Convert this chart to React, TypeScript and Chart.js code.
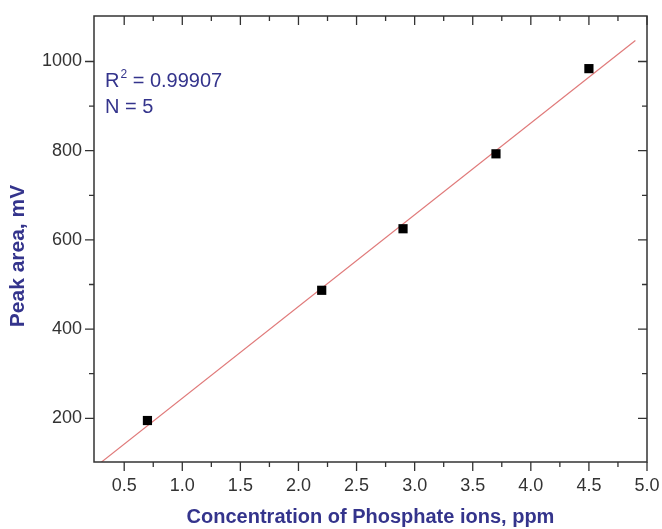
import React, { useEffect, useRef } from "react";
import { Chart, registerables } from "chart.js";

Chart.register(...registerables);

// ---- data ----
const concentration = [0.7, 2.2, 2.9, 3.7, 4.5];
const peakArea = [195, 487, 625, 793, 984];
const fitX = [0.3, 4.9];
const fitY = [101, 1047];
const xMajorTicks = [0.5, 1.0, 1.5, 2.0, 2.5, 3.0, 3.5, 4.0, 4.5, 5.0];
const xMinorTicks = [0.75, 1.25, 1.75, 2.25, 2.75, 3.25, 3.75, 4.25, 4.75];
const yMajorTicks = [200, 400, 600, 800, 1000];
const yMinorTicks = [300, 500, 700, 900];
const xTitle = "Concentration of Phosphate ions, ppm";
const yTitle = "Peak area, mV";
const rSquaredText = "0.99907";
const nText = "5";

const NAVY = "#34348c";
const AXIS = "#333333";
const FONT = "'Liberation Sans', Arial, sans-serif";

const framePlugin = {
  id: "frameTicks",
  afterDraw(chart: any) {
    const { ctx, chartArea } = chart;
    const { left, right, top, bottom } = chartArea;
    const xs = chart.scales.x;
    const ys = chart.scales.y;
    ctx.save();
    ctx.strokeStyle = AXIS;
    ctx.lineWidth = 1.5;
    ctx.beginPath();
    ctx.rect(left, top, right - left, bottom - top);
    ctx.stroke();
    ctx.lineWidth = 1.3;
    const major = 9;
    const minor = 5;
    ctx.beginPath();
    const xTick = (v: number, len: number) => {
      const px = xs.getPixelForValue(v);
      ctx.moveTo(px, bottom);
      ctx.lineTo(px, bottom + len);
      ctx.moveTo(px, top);
      ctx.lineTo(px, top + len);
    };
    const yTick = (v: number, len: number) => {
      const py = ys.getPixelForValue(v);
      ctx.moveTo(left, py);
      ctx.lineTo(left - len, py);
      ctx.moveTo(right, py);
      ctx.lineTo(right - len, py);
    };
    xMajorTicks.forEach((v) => xTick(v, major));
    xMinorTicks.forEach((v) => xTick(v, minor));
    yMajorTicks.forEach((v) => yTick(v, major));
    yMinorTicks.forEach((v) => yTick(v, minor));
    ctx.stroke();

    // y title
    ctx.fillStyle = NAVY;
    ctx.font = `bold 21px ${FONT}`;
    ctx.textAlign = "center";
    ctx.textBaseline = "middle";
    ctx.translate(18, (top + bottom) / 2 + 17);
    ctx.rotate(-Math.PI / 2);
    ctx.fillText(yTitle, 0, 0);
    ctx.restore();

    // annotation
    ctx.save();
    ctx.fillStyle = NAVY;
    ctx.textBaseline = "alphabetic";
    ctx.textAlign = "left";
    let x = left + 11;
    const y1 = top + 71;
    ctx.font = `20px ${FONT}`;
    ctx.fillText("R", x, y1);
    x += ctx.measureText("R").width + 1;
    ctx.font = `12px ${FONT}`;
    ctx.fillText("2", x, y1 - 9);
    x += ctx.measureText("2").width;
    ctx.font = `20px ${FONT}`;
    ctx.fillText(" = " + rSquaredText, x, y1);
    ctx.fillText("N = " + nText, left + 11, y1 + 26);
    ctx.restore();
  },
};

export default function App() {
  const ref = useRef<HTMLCanvasElement | null>(null);
  useEffect(() => {
    document.body.style.margin = "0";
    const canvas = ref.current;
    if (!canvas) return;
    const chart = new Chart(canvas, {
      type: "scatter",
      data: {
        datasets: [
          {
            label: "fit",
            data: fitX.map((x, i) => ({ x, y: fitY[i] })),
            showLine: true,
            borderColor: "#e07a7a",
            borderWidth: 1.2,
            pointRadius: 0,
            order: 2,
          },
          {
            label: "data",
            data: concentration.map((x, i) => ({ x, y: peakArea[i] })),
            pointStyle: "rect",
            pointRadius: 6.5,
            backgroundColor: "#000000",
            borderColor: "#000000",
            borderWidth: 0,
            order: 1,
          },
        ],
      },
      options: {
        animation: false,
        responsive: false,
        layout: { padding: { left: 0, right: 15, top: 16, bottom: 0 } },
        plugins: { legend: { display: false }, tooltip: { enabled: false } },
        scales: {
          x: {
            type: "linear",
            min: 0.24,
            max: 5.0,
            grid: { display: false },
            border: { display: false },
            afterBuildTicks: (scale: any) => {
              scale.ticks = xMajorTicks.map((v) => ({ value: v }));
            },
            afterFit: (scale: any) => {
              scale.height = 67;
              scale.paddingLeft = 0;
              scale.paddingRight = 0;
            },
            ticks: {
              autoSkip: false,
              maxRotation: 0,
              padding: 5,
              color: AXIS,
              font: { family: FONT, size: 18 },
              callback: (v: any) => Number(v).toFixed(1),
            },
            title: {
              display: true,
              text: xTitle,
              color: NAVY,
              font: { family: FONT, size: 20, weight: "bold" },
              padding: { top: 0, bottom: 0 },
            },
          },
          y: {
            type: "linear",
            min: 102,
            max: 1102,
            grid: { display: false },
            border: { display: false },
            afterBuildTicks: (scale: any) => {
              scale.ticks = yMajorTicks.map((v) => ({ value: v }));
            },
            afterFit: (scale: any) => {
              scale.width = 94;
              scale.paddingTop = 0;
              scale.paddingBottom = 0;
            },
            ticks: {
              autoSkip: false,
              padding: 4,
              color: AXIS,
              font: { family: FONT, size: 18 },
              callback: (v: any) => String(v),
            },
          },
        },
      },
      plugins: [framePlugin],
    } as any);
    return () => chart.destroy();
  }, []);
  return (
    <div style={{ width: 662, height: 529, background: "#fff" }}>
      <canvas ref={ref} width={662} height={529} />
    </div>
  );
}
